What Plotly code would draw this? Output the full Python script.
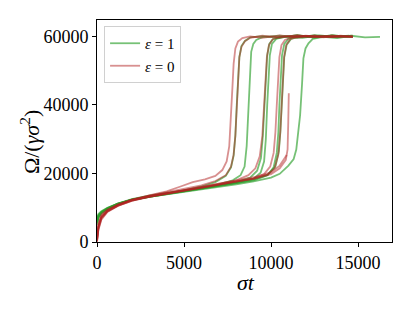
import plotly.graph_objects as go

# ---------------- data ----------------
# epsilon = 1 runs (green)
g1_t = [0, 80, 250, 600, 1200, 2000, 3000, 4000, 5000, 6000, 6800, 7400, 7700, 7850, 7950, 8030, 8100, 8180, 8300, 8500, 8800, 9500, 10500, 11500, 12500, 13500, 14700]
g1_v = [6000, 7500, 8600, 9800, 11200, 12500, 13500, 14300, 15100, 16200, 17500, 19300, 21800, 25200, 31000, 40000, 48000, 54000, 57200, 58700, 59700, 60100, 59600, 60400, 59800, 60300, 59900]
g2_t = [0, 80, 250, 600, 1200, 2000, 3000, 4000, 5000, 6000, 7000, 7800, 8250, 8480, 8600, 8700, 8780, 8860, 8980, 9150, 9500, 10500, 11500, 12500, 13500, 14500]
g2_v = [5500, 7200, 8500, 9700, 11100, 12400, 13400, 14200, 14900, 15800, 16800, 18000, 19500, 22000, 28000, 40000, 50000, 55500, 57800, 59000, 59800, 60200, 59700, 60300, 59900, 60200]
g3_t = [0, 80, 250, 600, 1200, 2000, 3000, 4000, 5000, 6000, 7000, 8000, 8800, 9200, 9420, 9530, 9620, 9700, 9780, 9900, 10100, 10600, 11500, 12500, 13500, 14700]
g3_v = [6500, 7800, 8800, 9900, 11200, 12400, 13300, 14100, 14800, 15600, 16500, 17500, 18800, 20800, 24500, 31000, 40000, 48500, 54500, 57800, 59200, 59900, 60300, 59700, 60200, 59900]
g4_t = [0, 80, 250, 600, 1200, 2000, 3000, 4000, 5000, 6000, 7000, 8000, 9000, 9400, 9600, 9700, 9780, 9850, 9930, 10050, 10300, 10800, 11800, 12800, 13800, 14600]
g4_v = [5000, 7000, 8300, 9600, 11000, 12300, 13300, 14100, 14700, 15500, 16400, 17300, 18500, 20200, 23500, 30000, 40000, 48500, 54500, 57800, 59300, 60000, 59600, 60300, 59800, 60100]
g5_t = [0, 80, 250, 600, 1200, 2000, 3000, 4000, 5000, 6000, 7000, 8000, 9000, 9800, 10150, 10330, 10420, 10480, 10550, 10630, 10760, 11000, 11500, 12500, 13500, 14700]
g5_v = [6200, 7600, 8700, 9800, 11100, 12300, 13200, 14000, 14600, 15400, 16200, 17000, 18000, 19500, 21800, 26000, 32000, 40000, 48000, 54500, 57800, 59300, 60000, 59700, 60300, 59900]
g6_t = [0, 80, 250, 600, 1200, 2000, 3000, 4000, 5000, 6000, 7000, 8000, 9000, 9800, 10250, 10450, 10540, 10610, 10680, 10760, 10900, 11150, 11600, 12500, 13500, 14700]
g6_v = [5800, 7300, 8500, 9700, 11000, 12200, 13200, 14000, 14700, 15500, 16300, 17200, 18200, 19600, 22000, 26500, 32500, 40000, 48000, 54000, 57600, 59300, 59900, 60300, 59800, 60200]
g7_t = [0, 80, 250, 600, 1200, 2000, 3000, 4000, 5000, 6000, 7000, 8000, 9000, 10000, 10500, 11000, 11300, 11450, 11560, 11670, 11780, 11860, 11980, 12150, 12400, 13000, 13800, 14600, 15400, 16260]
g7_v = [7000, 8200, 9000, 10000, 11200, 12300, 13200, 13900, 14500, 15200, 16000, 16800, 17700, 18800, 19900, 22300, 24200, 27000, 32000, 37000, 46000, 53600, 56500, 58000, 59300, 59900, 59500, 60200, 59700, 59900]

# epsilon = 0 runs (red)
r1_t = [0, 80, 250, 600, 1200, 2000, 3000, 4000, 4800, 5500, 6200, 6800, 7200, 7450, 7600, 7700, 7780, 7850, 7950, 8100, 8350, 8800, 9500, 10500, 11500, 12500, 13500, 14700]
r1_v = [500, 4500, 7500, 9200, 10800, 12300, 13600, 14800, 16200, 17500, 18300, 19300, 21000, 23500, 28000, 36000, 45000, 52000, 56500, 58500, 59500, 60000, 59600, 60300, 59700, 60200, 59800, 60100]
r2_t = [0, 80, 250, 600, 1200, 2000, 3000, 4000, 5000, 6000, 6800, 7400, 7700, 7850, 7950, 8030, 8100, 8180, 8300, 8500, 8800, 9500, 10500, 11500, 12500, 13500, 14700]
r2_v = [1500, 5500, 8000, 9500, 11000, 12400, 13500, 14500, 15400, 16500, 17800, 19500, 22000, 25500, 31000, 40000, 48000, 54000, 57000, 58600, 59600, 60200, 59700, 60300, 59800, 60200, 59900]
r3_t = [0, 80, 250, 600, 1200, 2000, 3000, 4000, 5000, 6000, 7000, 8000, 8700, 9100, 9350, 9500, 9600, 9680, 9760, 9880, 10100, 10500, 11500, 12500, 13500, 14700]
r3_v = [0, 4000, 7000, 9000, 10700, 12200, 13300, 14300, 15100, 16000, 16900, 18000, 19500, 21500, 25000, 31000, 40000, 48000, 54000, 57500, 59200, 59900, 60300, 59800, 60200, 59800]
r4_t = [0, 80, 250, 600, 1200, 2000, 3000, 4000, 5000, 6000, 7000, 8000, 9000, 9600, 9950, 10150, 10250, 10330, 10400, 10480, 10600, 10800, 11200, 12000, 13000, 14000, 14700]
r4_v = [200, 3500, 6500, 8800, 10500, 12000, 13200, 14200, 15000, 15800, 16700, 17600, 18600, 19800, 22000, 26000, 32000, 40000, 48000, 54000, 57500, 59000, 59800, 60200, 59700, 60200, 59900]
r5_t = [0, 80, 250, 600, 1200, 2000, 3000, 4000, 5000, 6000, 7000, 8000, 9000, 9800, 10200, 10420, 10530, 10600, 10670, 10750, 10870, 11100, 11500, 12500, 13500, 14700]
r5_v = [800, 4800, 7400, 9200, 10800, 12200, 13300, 14200, 15100, 16000, 16900, 17700, 18400, 19700, 21500, 25500, 32000, 40000, 48000, 54000, 57500, 59200, 59900, 60200, 59800, 60100]
r6_t = [0, 80, 250, 600, 1200, 2000, 3000, 4000, 5000, 6000, 7000, 8000, 9000, 10000, 10500, 10850, 10950, 10990, 11020]
r6_v = [1000, 4500, 7200, 9000, 10600, 12100, 13200, 14100, 15000, 15900, 16800, 17600, 18500, 19800, 21500, 24000, 27000, 35000, 43400]
r7_t = [0, 80, 250, 600, 1200, 2000, 3000, 4000, 5000, 6000, 7000, 8000, 9000, 10000, 10500, 10900]
r7_v = [300, 3800, 6800, 8900, 10600, 12100, 13300, 14300, 15200, 16100, 17000, 17900, 18900, 20300, 22300, 25400]

green_runs = [(g1_t, g1_v), (g2_t, g2_v), (g3_t, g3_v), (g4_t, g4_v), (g5_t, g5_v), (g6_t, g6_v), (g7_t, g7_v)]
red_runs = [(r1_t, r1_v), (r2_t, r2_v), (r3_t, r3_v), (r4_t, r4_v), (r5_t, r5_v), (r6_t, r6_v), (r7_t, r7_v)]

x_ticks = [0, 5000, 10000, 15000]
y_ticks = [0, 20000, 40000, 60000]
labels = ["<i>ε</i> = 1", "<i>ε</i> = 0"]
x_title = "<i>σt</i>"
y_title = "Ω/(<i>γσ</i><sup>2</sup>)"

GREEN = "rgba(44,160,44,0.65)"
RED = "rgba(178,34,34,0.5)"
FONT = "Liberation Serif"

fig = go.Figure()
for i, (t, v) in enumerate(green_runs):
    fig.add_trace(go.Scatter(x=t, y=v, mode="lines", line=dict(color=GREEN, width=1.8),
                             name=labels[0], legendgroup="g", showlegend=(i == 0)))
for i, (t, v) in enumerate(red_runs):
    fig.add_trace(go.Scatter(x=t, y=v, mode="lines", line=dict(color=RED, width=1.8),
                             name=labels[1], legendgroup="r", showlegend=(i == 0)))

axis_common = dict(showline=True, linecolor="black", linewidth=1, mirror=True,
                   ticks="outside", ticklen=4, tickcolor="black", showgrid=False,
                   zeroline=False, automargin=False,
                   tickfont=dict(family=FONT, size=18, color="black"))
# the page body adds an 8px offset, so the figure is 8px smaller with margins reduced
fig.update_layout(
    width=407, height=303,
    margin=dict(l=89, r=23, t=12, b=69),
    paper_bgcolor="white", plot_bgcolor="white",
    xaxis=dict(range=[0, 16950], tickvals=x_ticks, ticktext=[str(x) for x in x_ticks], **axis_common),
    yaxis=dict(range=[0, 64800], tickvals=y_ticks, ticktext=[str(y) for y in y_ticks], **axis_common),
    legend=dict(x=0.024, y=0.973, xanchor="left", yanchor="top",
                bgcolor="rgba(255,255,255,0.8)", bordercolor="#d0d0d0", borderwidth=1,
                font=dict(family=FONT, size=15, color="black"),
                tracegroupgap=0),
    showlegend=True,
    annotations=[
        dict(text=x_title, xref="paper", yref="paper", x=0.505, y=0, xanchor="center", yanchor="middle",
             yshift=-40, showarrow=False, font=dict(family=FONT, size=22, color="black")),
        dict(text=y_title, xref="paper", yref="paper", x=0, y=0.45, xanchor="center", yanchor="middle",
             xshift=-67, textangle=-90, showarrow=False, font=dict(family=FONT, size=22, color="black")),
    ],
)
fig.write_html("out.html")
